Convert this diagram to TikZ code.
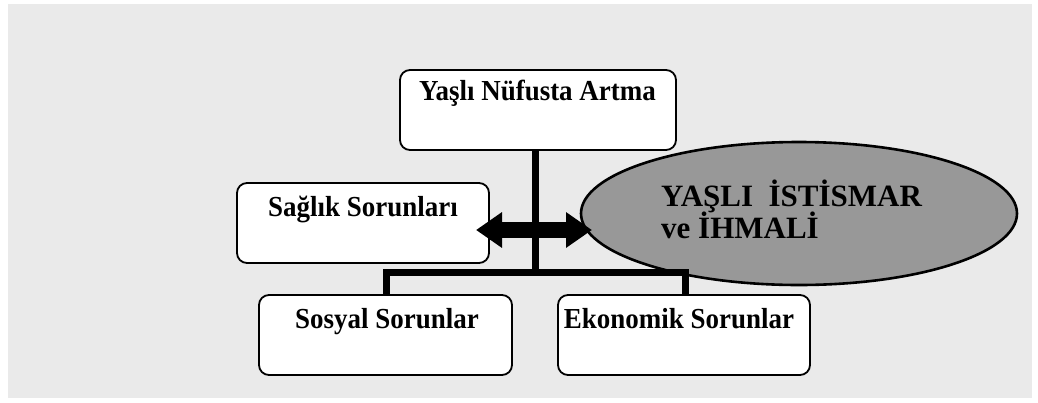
\documentclass[tikz,border=0pt]{standalone}
\usepackage{fontspec}
\setmainfont{Liberation Serif}
\newfontfamily\lblfont[FakeStretch=0.93]{Liberation Serif}
\usetikzlibrary{shapes.geometric,arrows.meta}
\definecolor{bgc}{RGB}{234,234,234}
\definecolor{ellc}{RGB}{152,152,152}
\begin{document}
\begin{tikzpicture}[x=1pt,y=-1pt,
  box/.style={draw, line width=1.8pt, fill=white, rounded corners=10pt, inner sep=0pt, minimum height=80pt},
  lbl/.style={font=\lblfont\fontsize{29}{32}\selectfont\bfseries, inner sep=0pt, anchor=base},
  elbl/.style={font=\fontsize{31}{34}\selectfont\bfseries, inner sep=0pt, anchor=base west},
  conn/.style={line width=7pt, line cap=butt, line join=miter},
  dblarrow/.style={line width=16pt, line cap=butt, {Triangle[length=26pt,width=34pt]}-{Triangle[length=26pt,width=34pt]}}]
\useasboundingbox (0,0) rectangle (1038,402);
\fill[white] (0,0) rectangle (1038,402);
\fill[bgc] (8,4) rectangle (1032,398);
% boxes
\node[box, minimum width=276pt] (top) at (538,110) {};
\node[box, minimum width=252pt] (sag) at (363,223) {};
\node[box, minimum width=253pt] (sos) at (385.5,335) {};
\node[box, minimum width=252pt] (eko) at (684,335) {};
% labels
\node[lbl] (toplbl) at (537.5,100.5) {Yaşlı Nüfusta Artma};
\node[lbl] (saglbl) at (363,216.5) {Sağlık Sorunları};
\node[lbl] (soslbl) at (387,328) {Sosyal Sorunlar};
\node[lbl] (ekolbl) at (679,328) {Ekonomik Sorunlar};
% ellipse
\node[ellipse, draw, line width=2.6pt, fill=ellc, minimum width=436pt, minimum height=143pt, inner sep=0pt] (ell) at (799,213.5) {};
\node[elbl] (el1) at (661,206.5) {YAŞLI\ \ İSTİSMAR};
\node[elbl] (el2) at (661,238.3) {ve İHMALİ};
% connectors
\coordinate (j) at (535,272);
\coordinate (bl) at (386,272);
\coordinate (br) at (685,272);
\draw[conn] (top.south -| j) -- (j);
\draw[conn] (sos.north -| bl) -- (bl) -- (br) -- (eko.north -| br);
% double arrow
\coordinate (al) at (476,230);
\coordinate (ar) at (592,230);
\draw[dblarrow] (al) -- (ar);
\end{tikzpicture}
\end{document}
